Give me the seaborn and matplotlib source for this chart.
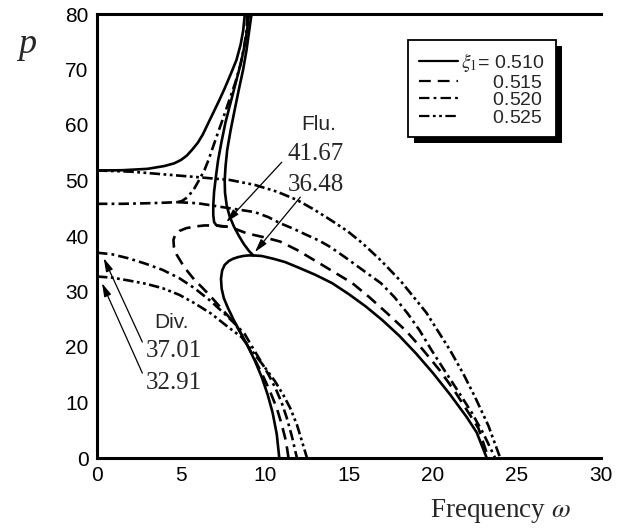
import numpy as np
import pandas as pd
import matplotlib
matplotlib.use("Agg")
import matplotlib.pyplot as plt
import seaborn as sns
from matplotlib.lines import Line2D
from matplotlib.patches import Rectangle
from matplotlib.transforms import IdentityTransform

# ---------------- data ----------------
xi_values = ["0.510", "0.515", "0.520", "0.525"]
x_ticks = [0, 5, 10, 15, 20, 25, 30]
y_ticks = [0, 10, 20, 30, 40, 50, 60, 70, 80]

# xi1 = 0.510 (solid)
w_510_a = [0, 1.5, 3, 4, 4.6, 5.0, 5.35, 5.65, 6.0, 6.3, 6.6, 7.0, 7.3, 7.6, 7.95, 8.3, 8.55, 8.7, 8.8]
p_510_a = [51.8, 51.85, 52.1, 52.6, 53.1, 53.7, 54.5, 55.5, 56.8, 58.3, 60.2, 62.7, 64.6, 66.6, 69.1, 71.7, 74.5, 77, 80]
w_510_b = [9.3, 9.05, 8.75, 8.45, 8.15, 7.9, 7.72, 7.62, 7.6, 7.65, 7.75, 7.95, 8.2, 8.45, 8.7, 8.9, 9.05, 9.2]
p_510_b = [36.5, 37.3, 38.5, 40, 41.7, 43.5, 45.5, 47.8, 50, 52.5, 55.5, 59, 62.8, 66.5, 70, 73.5, 76.8, 80]
w_510_c = [9.3, 9.0, 8.7, 8.4, 8.1, 7.85, 7.6, 7.45, 7.38, 7.42, 7.55, 7.8, 8.15, 8.6, 9.0, 9.4, 9.8, 10.15, 10.45, 10.7, 10.85]
p_510_c = [36.5, 36.5, 36.4, 36.2, 35.9, 35.5, 34.8, 33.8, 32.3, 30.5, 28.8, 27.0, 24.8, 22.3, 20.0, 17.5, 14.6, 11.5, 8.2, 4.3, 0]
w_510_d = [9.3, 9.8, 10.5, 11.2, 12, 13, 14, 15, 16, 17, 18, 19, 20, 21, 22, 22.6, 23.2]
p_510_d = [36.5, 36.4, 35.9, 35.3, 34.3, 33.0, 31.5, 29.5, 27.3, 24.8, 22, 18.8, 15.3, 11.5, 7.4, 4.6, 0]

# xi1 = 0.515 (dashed); its upper branch appears solid in the figure
w_515_up = [7.7, 7.35, 7.1, 6.97, 6.92, 6.92, 6.97, 7.07, 7.2, 7.4, 7.65, 7.95, 8.25, 8.55, 8.8, 8.95, 9.05]
p_515_up = [41.7, 41.75, 41.95, 42.5, 43.8, 45.5, 48, 50.5, 53.5, 56.8, 60.5, 64, 67.5, 71, 74.5, 77.5, 80]
w_515_a = [11.4, 11.25, 11.0, 10.7, 10.3, 9.85, 9.3, 8.8, 8.3, 7.8, 7.3, 6.8, 6.3, 5.8, 5.4, 5.05,
           4.75, 4.58, 4.55, 4.65, 4.9, 5.3, 5.8, 6.4, 7.1, 7.7, 8.3, 8.9, 9.9, 10.9, 11.9, 12.9,
           14.0, 15.2, 16.2, 17.3, 18.4, 19.4, 20.4, 21.3, 22.0, 22.7, 23.3]
p_515_a = [0, 3, 6, 9, 12, 15, 18.3, 21.2, 23.8, 25.6, 27.3, 29, 30.6, 32.1, 33.6, 35.1,
           36.6, 38, 39.3, 40.2, 40.9, 41.4, 41.7, 41.9, 41.9, 41.7, 41.2, 40.5, 39.8, 39, 37.5, 35.7,
           33.7, 31.5, 29, 26, 22.9, 19.5, 15.8, 12, 8.7, 5.4, 0]

# xi1 = 0.520 (dash-dot)
w_520_a = [0, 1.5, 3, 4, 4.8]
p_520_a = [45.8, 45.8, 45.9, 46, 46.1]
w_520_b = [4.8, 5.05, 5.3, 5.55, 5.8, 6.1, 6.4, 6.65, 6.9, 7.2, 7.55, 7.9, 8.25, 8.55, 8.75, 8.9, 8.95]
p_520_b = [46.1, 46.3, 46.8, 47.6, 48.6, 50.2, 51.9, 53.8, 56, 58.6, 61.6, 64.7, 67.8, 71, 74, 77, 80]
w_520_c = [4.8, 6, 7.9, 9.4, 10.2, 10.9, 11.7, 12.4, 13.2, 13.9, 14.8, 15.8, 16.9, 17.7, 18.5,
           19.2, 19.9, 20.7, 21.5, 22.3, 23.0, 23.7]
p_520_c = [46.1, 45.9, 45, 44.3, 43.4, 42.3, 41.3, 40.3, 39.2, 38, 36.1, 33.9, 31.5, 29, 26,
           23, 19.5, 15.7, 12, 8.2, 4.4, 0]
w_520_d = [0, 0.9, 1.85, 2.9, 3.9, 4.9, 5.8, 6.8, 7.8, 8.3, 8.8, 9.3, 9.8, 10.25, 10.65, 11.0, 11.3, 11.6, 11.9]
p_520_d = [37, 36.7, 36, 35, 33.9, 32.4, 30.6, 28.2, 25.4, 23.9, 22.3, 19.7, 17.2, 14.8, 12.4, 9.9, 7.2, 3.9, 0]

# xi1 = 0.525 (dash-dot-dot)
w_525_a = [0, 2, 4, 6, 7.9, 9.4, 10.7, 11.9, 12.9, 13.9, 14.9, 15.8, 16.9, 18.1, 19.6, 21.0, 21.8, 22.5, 23.3, 24.0]
p_525_a = [51.8, 51.6, 51.1, 50.6, 50.1, 49.2, 48.0, 46.5, 44.8, 42.9, 40.9, 38.7, 35.6, 31.8, 26.2, 19.5, 15.2, 11.0, 5.8, 0]
w_525_b = [0, 0.9, 1.85, 2.9, 3.9, 4.9, 5.8, 6.8, 7.8, 8.6, 9.3, 10.0, 10.6, 11.1, 11.5, 11.9, 12.2, 12.5]
p_525_b = [32.7, 32.5, 32, 31.4, 30.6, 29.4, 27.9, 26, 23.6, 21.8, 19, 16.3, 13.8, 11.3, 9, 6, 3, 0]

segments = [
    ("0.510", w_510_a, p_510_a), ("0.510", w_510_b, p_510_b),
    ("0.510", w_510_c, p_510_c), ("0.510", w_510_d, p_510_d),
    ("0.515 upper", w_515_up, p_515_up), ("0.515", w_515_a, p_515_a),
    ("0.520", w_520_a, p_520_a), ("0.520", w_520_b, p_520_b),
    ("0.520", w_520_c, p_520_c), ("0.520", w_520_d, p_520_d),
    ("0.525", w_525_a, p_525_a), ("0.525", w_525_b, p_525_b),
]

rows = []
for i, (sty, ws, ps) in enumerate(segments):
    for w, p in zip(ws, ps):
        rows.append({"omega": w, "p": p, "style": sty, "seg": i})
df = pd.DataFrame(rows)

dash_map = {
    "0.510": "",
    "0.515 upper": "",
    "0.515": (8.5, 5),
    "0.520": (7.5, 3, 2, 3),
    "0.525": (7.5, 2.5, 2, 2.5, 2, 2.5),
}

# ---------------- style ----------------
sns.set_style("white")
plt.rcParams["font.family"] = ["Liberation Sans", "DejaVu Sans"]
plt.rcParams["mathtext.fontset"] = "stix"
plt.rcParams["lines.scale_dashes"] = False
plt.rcParams["lines.solid_joinstyle"] = "round"
plt.rcParams["lines.dash_joinstyle"] = "round"

fig = plt.figure(figsize=(6.2, 5.28), dpi=100)
ax = fig.add_axes([97 / 620, 1 - 458 / 528, 504 / 620, 444 / 528])

sns.lineplot(data=df, x="omega", y="p", style="style", units="seg",
             estimator=None, sort=False, dashes=dash_map, color="black",
             linewidth=1.9, legend=False, ax=ax)

ax.set_xlim(0, 30)
ax.set_ylim(0, 80)
ax.set_xticks(x_ticks)
ax.set_yticks(y_ticks)
ax.tick_params(direction="in", length=7, width=2, labelsize=15, pad=6,
               colors="black")
ax.tick_params(top=False, right=False)
for side in ["left", "bottom", "top"]:
    ax.spines[side].set_linewidth(2.2)
    ax.spines[side].set_color("black")
ax.spines["right"].set_visible(False)

serif = ["Liberation Serif", "DejaVu Serif"]
ax.set_xlabel(r"Frequency $\omega$", family=serif, fontsize=19.5, va="baseline")
ax.xaxis.set_label_coords(0.80, -0.133)
ax.set_ylabel("p", family=serif, fontsize=26, style="italic", rotation=0,
              va="baseline", ha="center")
ax.yaxis.set_label_coords(-0.139, 0.912)

# annotations
arrow = dict(arrowstyle="-|>,head_length=0.8,head_width=0.22", lw=0.9,
             color="black", shrinkA=0, shrinkB=0)
ax.annotate("", xy=(7.7, 42.5), xytext=(11.0, 53.3), arrowprops=arrow)
ax.annotate("", xy=(9.4, 37.1), xytext=(12.1, 47.0), arrowprops=arrow)
ax.annotate("", xy=(0.4, 36.0), xytext=(2.7, 20.9), arrowprops=arrow)
ax.annotate("", xy=(0.3, 31.5), xytext=(2.7, 15.3), arrowprops=arrow)

ax.text(13.2, 60.0, "Flu.", fontsize=15, ha="center", va="center")
ax.text(13.0, 54.8, "41.67", family=serif, fontsize=18, ha="center", va="center")
ax.text(13.0, 49.2, "36.48", family=serif, fontsize=18, ha="center", va="center")
ax.text(4.46, 24.5, "Div.", fontsize=15, ha="center", va="center")
ax.text(4.6, 19.3, "37.01", family=serif, fontsize=18, ha="center", va="center")
ax.text(4.6, 13.6, "32.91", family=serif, fontsize=18, ha="center", va="center")

# legend: numbers right-aligned with the first row
LEG_FS = 14
renderer = fig.canvas.get_renderer()
def txt_width(s):
    t = ax.text(0, 0, s, fontsize=LEG_FS)
    w = t.get_window_extent(renderer).width
    t.remove()
    return w
prefix_w = txt_width(r"$\xi_1$= 0.510") - txt_width("0.510")
unit_w = txt_width(r"$\hspace{1}$0.510") - txt_width("0.510")
n_em = prefix_w / unit_w if unit_w > 0 else 1.7

labels = [r"$\xi_1$= " + xi_values[0]] + \
         [r"$\hspace{%.3f}$" % n_em + v for v in xi_values[1:]]
handles = []
for v in xi_values:
    d = dash_map[v]
    ls = "-" if d == "" else (0, d)
    handles.append(Line2D([0], [0], color="black", lw=1.6, linestyle=ls))

leg = ax.legend(handles, labels, loc="upper left",
                bbox_to_anchor=(0.617, 0.941), borderaxespad=0,
                fontsize=LEG_FS, frameon=True,
                fancybox=False, framealpha=1, edgecolor="black",
                handlelength=2.0, handletextpad=0.2, labelspacing=0.0,
                borderpad=0.55)
leg.get_frame().set_linewidth(1.3)

fig.canvas.draw()
bb = leg.get_frame().get_window_extent(renderer)
shadow = Rectangle((bb.x0 + 6, bb.y0 - 6), bb.width, bb.height,
                   transform=IdentityTransform(), facecolor="black",
                   edgecolor="none", zorder=4.5, clip_on=False)
ax.add_artist(shadow)

fig.savefig("out.png", dpi=100)
